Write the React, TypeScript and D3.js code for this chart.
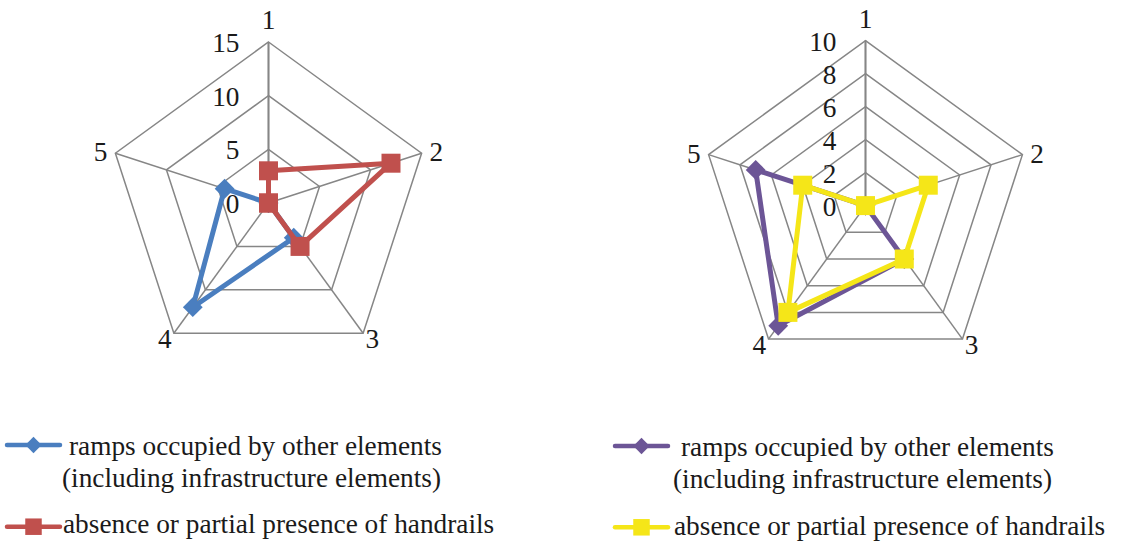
import React from "react";
import * as d3 from "d3";

const axes = ["1", "2", "3", "4", "5"];
const leftTicks = [0, 5, 10, 15];
const rightTicks = [0, 2, 4, 6, 8, 10];
const leftRamps = [0, 0, 4, 12, 4.3];
const leftHandrails = [3, 12, 5, 0, 0];
const rightRamps = [0, 0, 4, 9, 7];
const rightHandrails = [0, 4, 4, 8, 4];
const legendLabels = [
  ["ramps occupied by other elements", "(including infrastructure elements)"],
  ["absence or partial presence of handrails"],
];

const FONT = "'Liberation Serif', 'Times New Roman', serif";
const FS = 27.3;
const GRID = "#868686";

type Series = { values: number[]; color: string; marker: "diamond" | "square" };

function Marker({ x, y, kind, color, size }: { x: number; y: number; kind: string; color: string; size: number }) {
  const p = d3.symbol(d3.symbolSquare, size * size)();
  if (kind === "square") {
    return <path d={p || ""} transform={`translate(${x},${y})`} fill={color} />;
  }
  return <path d={p || ""} transform={`translate(${x},${y}) rotate(45)`} fill={color} />;
}

function Radar({ cx, cy, R, ticks, series }: { cx: number; cy: number; R: number; ticks: number[]; series: Series[] }) {
  const max = ticks[ticks.length - 1];
  const r = d3.scaleLinear().domain([0, max]).range([0, R]);
  const ang = (i: number) => (i * 2 * Math.PI) / axes.length;
  const pt = (i: number, v: number): [number, number] => [cx + r(v) * Math.sin(ang(i)), cy - r(v) * Math.cos(ang(i))];
  const closed = d3.line<[number, number]>().curve(d3.curveLinearClosed);
  return (
    <g>
      {ticks.slice(1).map((t) => (
        <path key={t} d={closed(axes.map((_, i) => pt(i, t))) || ""} fill="none" stroke={GRID} strokeWidth={1.5} />
      ))}
      {axes.map((_, i) => {
        const [x, y] = pt(i, max);
        return <line key={i} x1={cx} y1={cy} x2={x} y2={y} stroke={GRID} strokeWidth={i === 0 ? 2.1 : 1.5} />;
      })}
      {ticks.map((t) => (
        <text key={t} x={cx - 29} y={r(t) ? cy - r(t) + 1 : cy + 1} textAnchor="end" dominantBaseline="central" fontFamily={FONT} fontSize={FS} fill="#1a1a1a">
          {t}
        </text>
      ))}
      {axes.map((a, i) => {
        const [x, y] = pt(i, max);
        const c = Math.cos(ang(i));
        const dy = c > 0.9 ? -22 : c > 0 ? -1 : 5.5;
        const dx = Math.sin(ang(i)) * 15.5;
        return (
          <text key={a} x={x + dx} y={y + dy} textAnchor="middle" dominantBaseline="central" fontFamily={FONT} fontSize={FS} fill="#1a1a1a">
            {a}
          </text>
        );
      })}
      {series.map((s, k) => (
        <g key={k}>
          <path d={closed(s.values.map((v, i) => pt(i, v))) || ""} fill="none" stroke={s.color} strokeWidth={5} strokeLinejoin="round" />
          {s.values.map((v, i) => {
            const [x, y] = pt(i, v);
            return <Marker key={i} x={x} y={y} kind={s.marker} color={s.color} size={s.marker === "square" ? 19 : 14} />;
          })}
        </g>
      ))}
    </g>
  );
}

function Legend({ x0, y1, y3, colors, textX, baselines }: { x0: number; y1: number; y3: number; colors: string[]; textX: number[]; baselines: number[] }) {
  return (
    <g fontFamily={FONT} fontSize={FS} fill="#1a1a1a">
      <line x1={x0} x2={x0 + 53} y1={y1} y2={y1} stroke={colors[0]} strokeWidth={4.5} strokeLinecap="round" />
      <Marker x={x0 + 26.5} y={y1} kind="diamond" color={colors[0]} size={11.5} />
      <text x={x0 + textX[0]} y={baselines[0]}>{legendLabels[0][0]}</text>
      <text x={x0 + textX[1]} y={baselines[1]}>{legendLabels[0][1]}</text>
      <line x1={x0} x2={x0 + 53} y1={y3} y2={y3} stroke={colors[1]} strokeWidth={4.5} strokeLinecap="round" />
      <Marker x={x0 + 26.5} y={y3} kind="square" color={colors[1]} size={16.5} />
      <text x={x0 + textX[2]} y={baselines[2]}>{legendLabels[1][0]}</text>
    </g>
  );
}

export default function App() {
  const blue = "#4a7ebf";
  const red = "#c0504d";
  const purple = "#6c5596";
  const yellow = "#f5e618";
  return (
    <svg width={1121} height={544} style={{ position: "absolute", left: 0, top: 0, background: "#fff" }}>
      <rect width={1121} height={544} fill="#fff" />
      <Radar
        cx={268.5}
        cy={203}
        R={161}
        ticks={leftTicks}
        series={[
          { values: leftRamps, color: blue, marker: "diamond" },
          { values: leftHandrails, color: red, marker: "square" },
        ]}
      />
      <Radar
        cx={865.5}
        cy={205.6}
        R={165}
        ticks={rightTicks}
        series={[
          { values: rightRamps, color: purple, marker: "diamond" },
          { values: rightHandrails, color: yellow, marker: "square" },
        ]}
      />
      <Legend x0={7} y1={445} y3={526.7} colors={[blue, red]} textX={[62, 55, 56]} baselines={[455, 486.7, 533]} />
      <Legend x0={615} y1={446} y3={527.3} colors={[purple, yellow]} textX={[66, 58, 59]} baselines={[456, 488.3, 535]} />
    </svg>
  );
}
